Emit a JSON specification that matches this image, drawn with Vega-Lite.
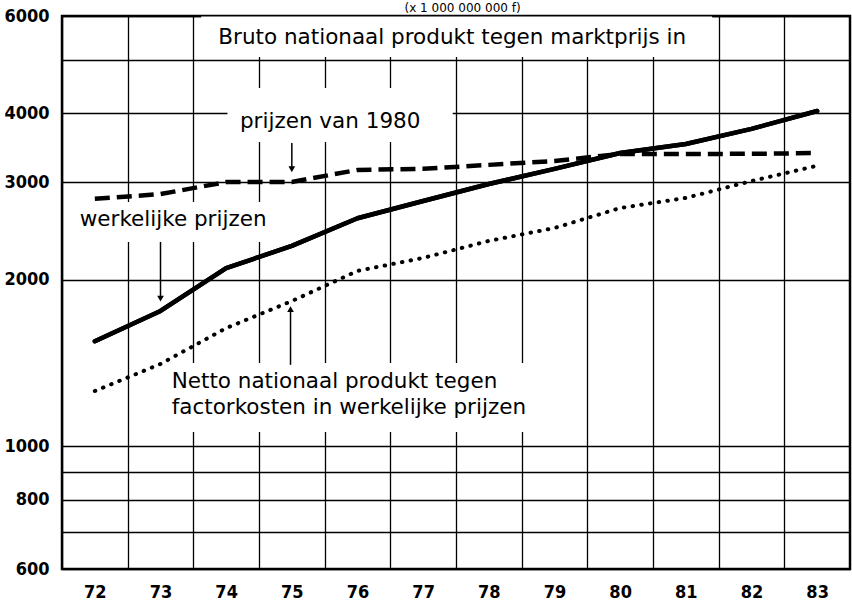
{
  "$schema": "https://vega.github.io/schema/vega-lite/v6.json",
  "width": 788,
  "height": 553,
  "autosize": {"type": "none"},
  "padding": {"left": 62, "top": 16, "right": 2, "bottom": 39},
  "background": "white",
  "config": {
    "view": {"stroke": "black", "strokeWidth": 2.5},
    "axis": {"gridColor": "black", "gridWidth": 1.3, "gridOpacity": 1, "domain": false, "ticks": false, "labelColor": "black", "labelFont": "Liberation Sans Narrow, DejaVu Sans Condensed, sans-serif", "labelFontWeight": "bold", "labelFontSize": 18, "title": null}
  },
  "datasets": {
    "series": [
      {"year": 72, "value": 1549, "serie": "bnp_werkelijk"},
      {"year": 73, "value": 1757, "serie": "bnp_werkelijk"},
      {"year": 74, "value": 2100, "serie": "bnp_werkelijk"},
      {"year": 75, "value": 2304, "serie": "bnp_werkelijk"},
      {"year": 76, "value": 2585, "serie": "bnp_werkelijk"},
      {"year": 77, "value": 2777, "serie": "bnp_werkelijk"},
      {"year": 78, "value": 2981, "serie": "bnp_werkelijk"},
      {"year": 79, "value": 3175, "serie": "bnp_werkelijk"},
      {"year": 80, "value": 3391, "serie": "bnp_werkelijk"},
      {"year": 81, "value": 3522, "serie": "bnp_werkelijk"},
      {"year": 82, "value": 3750, "serie": "bnp_werkelijk"},
      {"year": 83, "value": 4040, "serie": "bnp_werkelijk"},
      {"year": 72, "value": 2802, "serie": "bnp_1980"},
      {"year": 73, "value": 2858, "serie": "bnp_1980"},
      {"year": 74, "value": 3005, "serie": "bnp_1980"},
      {"year": 75, "value": 3006, "serie": "bnp_1980"},
      {"year": 76, "value": 3161, "serie": "bnp_1980"},
      {"year": 77, "value": 3175, "serie": "bnp_1980"},
      {"year": 78, "value": 3228, "serie": "bnp_1980"},
      {"year": 79, "value": 3281, "serie": "bnp_1980"},
      {"year": 80, "value": 3378, "serie": "bnp_1980"},
      {"year": 81, "value": 3378, "serie": "bnp_1980"},
      {"year": 82, "value": 3380, "serie": "bnp_1980"},
      {"year": 83, "value": 3391, "serie": "bnp_1980"},
      {"year": 72, "value": 1259, "serie": "nnp_factorkosten"},
      {"year": 73, "value": 1409, "serie": "nnp_factorkosten"},
      {"year": 74, "value": 1636, "serie": "nnp_factorkosten"},
      {"year": 75, "value": 1831, "serie": "nnp_factorkosten"},
      {"year": 76, "value": 2076, "serie": "nnp_factorkosten"},
      {"year": 77, "value": 2191, "serie": "nnp_factorkosten"},
      {"year": 78, "value": 2352, "serie": "nnp_factorkosten"},
      {"year": 79, "value": 2482, "serie": "nnp_factorkosten"},
      {"year": 80, "value": 2697, "serie": "nnp_factorkosten"},
      {"year": 81, "value": 2813, "serie": "nnp_factorkosten"},
      {"year": 82, "value": 3018, "serie": "nnp_factorkosten"},
      {"year": 83, "value": 3216, "serie": "nnp_factorkosten"}
    ],
    "boxes": [
      {"x1": 73.62, "x2": 81.4, "y1": 5060, "y2": 5990},
      {"x1": 74.02, "x2": 77.45, "y1": 3551, "y2": 4446},
      {"x1": 71.6, "x2": 75.0, "y1": 2342, "y2": 2766},
      {"x1": 73.07, "x2": 79.08, "y1": 1061, "y2": 1415}
    ],
    "labels": [
      {"x": 73.88, "y": 5475, "text": "Bruto nationaal produkt tegen marktprijs in"},
      {"x": 74.21, "y": 3859, "text": "prijzen van 1980"},
      {"x": 71.77, "y": 2566, "text": "werkelijke prijzen"},
      {"x": 73.17, "y": 1307, "text": "Netto nationaal produkt tegen"},
      {"x": 73.17, "y": 1173, "text": "factorkosten in werkelijke prijzen"}
    ],
    "unit": [
      {"x": 77.6, "y": 6200, "text": "(x 1 000 000 000 f)"}
    ],
    "arrows": [
      {"x": 75.0, "from": 3536, "to": 3170, "dir": "down"},
      {"x": 73.0, "from": 2342, "to": 1850, "dir": "down"},
      {"x": 74.98, "from": 1404, "to": 1770, "dir": "up"}
    ]
  },
  "layer": [
    {
      "data": {"name": "series"},
      "mark": {"type": "line", "color": "black", "strokeWidth": 4.5, "strokeCap": "round", "strokeJoin": "round"},
      "transform": [{"filter": "datum.serie == 'bnp_werkelijk'"}],
      "encoding": {
        "x": {"field": "year", "type": "quantitative", "scale": {"domain": [71.5, 83.5], "nice": false, "zero": false},
              "axis": {"values": [71.5, 72.5, 73.5, 74.5, 75.5, 76.5, 77.5, 78.5, 79.5, 80.5, 81.5, 82.5], "labelExpr": "format(datum.value + 0.5, 'd')", "labelOffset": 32.8, "labelPadding": 14, "labelOverlap": false, "labelFlush": false, "labelBound": false, "grid": true}},
        "y": {"field": "value", "type": "quantitative", "scale": {"type": "log", "domain": [600, 6000], "nice": false},
              "axis": {"values": [600, 700, 800, 900, 1000, 2000, 3000, 4000, 5000, 6000], "labelExpr": "datum.value == 700 || datum.value == 900 || datum.value == 5000 ? '' : format(datum.value, 'd')", "labelPadding": 13, "labelOverlap": false, "labelFlush": false, "grid": true}}
      }
    },
    {
      "data": {"name": "boxes"},
      "mark": {"type": "rect", "color": "white", "opacity": 1},
      "encoding": {
        "x": {"field": "x1", "type": "quantitative"},
        "x2": {"field": "x2"},
        "y": {"field": "y1", "type": "quantitative"},
        "y2": {"field": "y2"}
      }
    },
    {
      "data": {"name": "series"},
      "mark": {"type": "line", "color": "black", "strokeWidth": 4.5, "strokeCap": "round", "strokeJoin": "round"},
      "transform": [{"filter": "datum.serie == 'bnp_werkelijk'"}],
      "encoding": {
        "x": {"field": "year", "type": "quantitative"},
        "y": {"field": "value", "type": "quantitative"}
      }
    },
    {
      "data": {"name": "series"},
      "mark": {"type": "line", "color": "black", "strokeWidth": 4.5, "strokeDash": [15, 7]},
      "transform": [{"filter": "datum.serie == 'bnp_1980'"}],
      "encoding": {
        "x": {"field": "year", "type": "quantitative"},
        "y": {"field": "value", "type": "quantitative"}
      }
    },
    {
      "data": {"name": "series"},
      "mark": {"type": "line", "color": "black", "strokeWidth": 4, "strokeDash": [0.5, 8.3], "strokeCap": "round"},
      "transform": [{"filter": "datum.serie == 'nnp_factorkosten'"}],
      "encoding": {
        "x": {"field": "year", "type": "quantitative"},
        "y": {"field": "value", "type": "quantitative"}
      }
    },
    {
      "data": {"name": "arrows"},
      "mark": {"type": "rule", "color": "black", "strokeWidth": 1.5},
      "encoding": {
        "x": {"field": "x", "type": "quantitative"},
        "y": {"field": "from", "type": "quantitative"},
        "y2": {"field": "to"}
      }
    },
    {
      "data": {"name": "arrows"},
      "mark": {"type": "point", "filled": true, "color": "black", "opacity": 1, "size": 45},
      "encoding": {
        "x": {"field": "x", "type": "quantitative"},
        "y": {"field": "to", "type": "quantitative"},
        "shape": {"field": "dir", "type": "nominal", "scale": {"domain": ["down", "up"], "range": ["triangle-down", "triangle-up"]}, "legend": null}
      }
    },
    {
      "data": {"name": "labels"},
      "mark": {"type": "text", "font": "DejaVu Sans", "fontSize": 21.5, "color": "black", "align": "left", "baseline": "middle"},
      "encoding": {
        "x": {"field": "x", "type": "quantitative"},
        "y": {"field": "y", "type": "quantitative"},
        "text": {"field": "text"}
      }
    },
    {
      "data": {"name": "unit"},
      "mark": {"type": "text", "font": "DejaVu Sans", "fontSize": 12, "color": "black", "align": "center", "baseline": "middle"},
      "encoding": {
        "x": {"field": "x", "type": "quantitative"},
        "y": {"field": "y", "type": "quantitative"},
        "text": {"field": "text"}
      }
    }
  ]
}
